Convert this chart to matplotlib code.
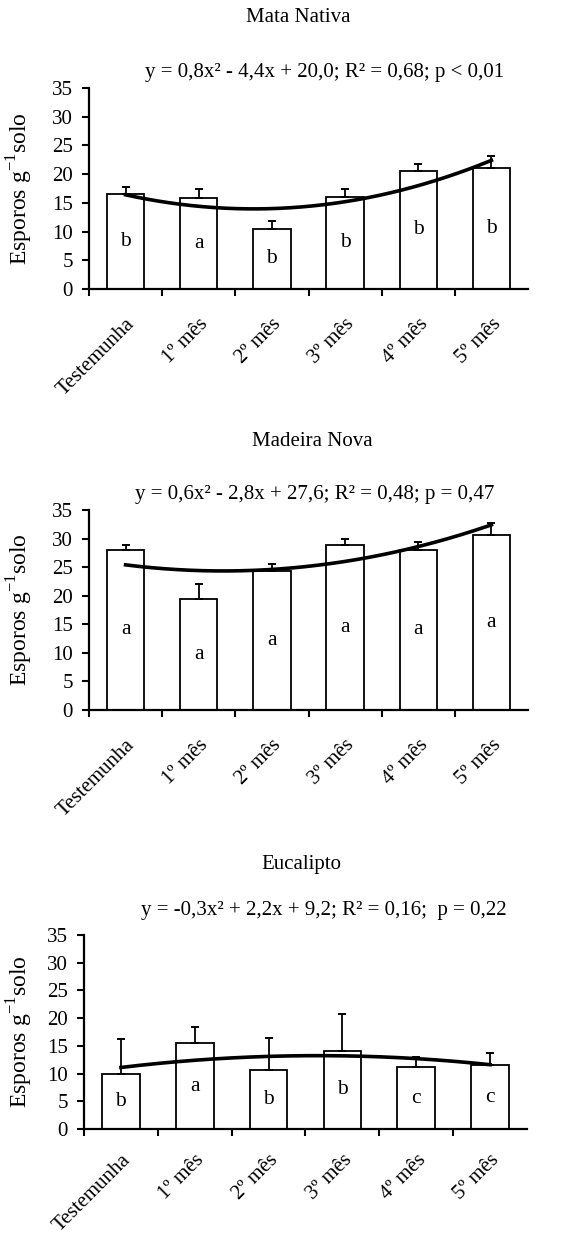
import numpy as np
import matplotlib
matplotlib.use("Agg")
import matplotlib.pyplot as plt

# ---- DADOS ----
categorias = ["Testemunha", "1º mês", "2º mês", "3º mês", "4º mês", "5º mês"]

titulos = ["Mata Nativa", "Madeira Nova", "Eucalipto"]
equacoes = [
    "y = 0,8x² - 4,4x + 20,0; R² = 0,68; p < 0,01",
    "y = 0,6x² - 2,8x + 27,6; R² = 0,48; p = 0,47",
    "y = -0,3x² + 2,2x + 9,2; R² = 0,16;  p = 0,22",
]

mata_media = [16.5, 15.8, 10.5, 16.1, 20.6, 21.0]
mata_erro = [1.2, 1.6, 1.4, 1.3, 1.1, 2.2]
mata_letras = ["b", "a", "b", "b", "b", "b"]
mata_coef = [0.8, -4.4, 20.0]

madeira_media = [28.0, 19.4, 24.4, 28.9, 28.0, 30.6]
madeira_erro = [0.8, 2.6, 1.2, 1.1, 1.4, 2.1]
madeira_letras = ["a", "a", "a", "a", "a", "a"]
madeira_coef = [0.6, -2.8, 27.6]

euca_media = [9.9, 15.5, 10.6, 14.1, 11.1, 11.5]
euca_erro = [6.3, 2.9, 5.8, 6.6, 1.9, 2.3]
euca_letras = ["b", "a", "b", "b", "c", "c"]
euca_coef = [-0.3, 2.2, 9.2]

paineis = [
    (mata_media, mata_erro, mata_letras, mata_coef),
    (madeira_media, madeira_erro, madeira_letras, madeira_coef),
    (euca_media, euca_erro, euca_letras, euca_coef),
]

# ---- ESTILO ----
plt.rcParams["font.family"] = ["Liberation Serif", "DejaVu Serif"]
plt.rcParams["mathtext.fontset"] = "custom"
plt.rcParams["mathtext.rm"] = "Liberation Serif"
plt.rcParams["font.size"] = 15

W, H = 576, 1236
fig = plt.figure(figsize=(W / 100, H / 100), dpi=100)

# posicoes em pixels
layout = [
    dict(left=89, width=439, top=88, bottom=289, tit=(298, 18), eq=(325, 72), pad=18.5),
    dict(left=89, width=439, top=510, bottom=710, tit=(312, 442), eq=(315, 495), pad=18.5),
    dict(left=84, width=443, top=935, bottom=1129, tit=(301, 865), eq=(324, 910), pad=15.5),
]

x = np.arange(1, len(categorias) + 1)

for (media, erro, letras, coef), lay, titulo, eq in zip(paineis, layout, titulos, equacoes):
    ax = fig.add_axes([lay["left"] / W, 1 - lay["bottom"] / H,
                       lay["width"] / W, (lay["bottom"] - lay["top"]) / H])

    ax.bar(x, media, width=0.51, color="white", edgecolor="black", linewidth=1.3, zorder=2)
    ax.errorbar(x, media, yerr=[np.zeros(len(media)), erro], fmt="none",
                ecolor="black", elinewidth=1.3, capsize=3.2, capthick=1.4, zorder=3)

    xs = np.linspace(1, 6, 200)
    ax.plot(xs, np.polyval(coef, xs), color="black", linewidth=2.6, zorder=4)

    for xi, m, l in zip(x, media, letras):
        ax.text(xi, m / 2, l, ha="center", va="center", fontsize=15.5, zorder=5)

    ax.set_xlim(0.5, 6.5)
    ax.set_ylim(0, 35)
    ax.set_yticks(range(0, 36, 5))

    # ticks nas divisas das categorias, rotulos no centro
    ax.set_xticks(np.arange(0.5, 6.0, 1.0))
    ax.set_xticklabels([])
    ax.set_xticks(x, minor=True)
    ax.set_xticklabels(categorias, minor=True, rotation=45, ha="right",
                       va="top", rotation_mode="anchor")
    ax.tick_params(axis="x", which="minor", length=0, pad=lay["pad"])
    ax.tick_params(axis="x", which="major", direction="out", length=5, width=1.5)
    ax.tick_params(axis="y", direction="out", length=5, width=1.5, pad=6.5)

    for s in ["top", "right"]:
        ax.spines[s].set_visible(False)
    for s in ["left", "bottom"]:
        ax.spines[s].set_linewidth(1.6)

    ax.set_ylabel(r"Esporos g$^{\mathregular{-1}}$solo", fontsize=17)
    ax.yaxis.set_label_coords((35 - lay["left"]) / lay["width"], 0.5)

    fig.text(lay["tit"][0] / W, 1 - lay["tit"][1] / H, titulo,
             ha="center", va="center", fontsize=15)
    fig.text(lay["eq"][0] / W, 1 - lay["eq"][1] / H, eq,
             ha="center", va="center", fontsize=15)

fig.savefig("out.png", dpi=100)
